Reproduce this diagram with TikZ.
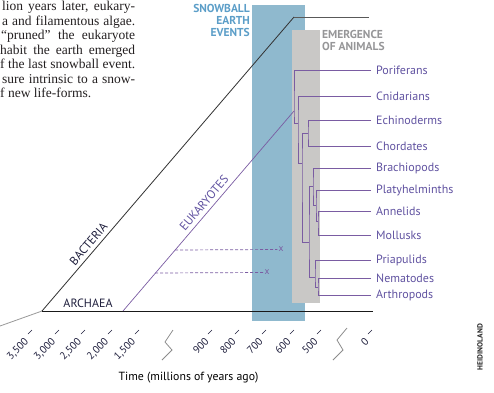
\documentclass[tikz,border=0pt]{standalone}
\usepackage{fontspec}
\setmainfont{Liberation Serif}
\newfontfamily\figsans{PT Sans}
\usetikzlibrary{calc}
\definecolor{snowfill}{RGB}{143,185,206}
\definecolor{snowtext}{RGB}{92,158,200}
\definecolor{animfill}{RGB}{201,200,198}
\definecolor{animtext}{RGB}{150,150,152}
\definecolor{purp}{RGB}{122,92,162}
\definecolor{purptext}{RGB}{96,82,160}
\definecolor{ink}{RGB}{30,30,60}
\definecolor{bodytext}{RGB}{35,31,32}
\tikzset{
  body/.style={anchor=base west, inner sep=0pt, text=bodytext, font=\fontsize{13.5}{14}\selectfont},
  leaf/.style={anchor=west, inner xsep=5pt, inner ysep=0pt, text=purptext, font=\figsans\fontsize{12}{13}\selectfont},
  tree/.style={draw=purp, line width=0.9pt},
  blackline/.style={draw=black!80, line width=0.8pt},
  ticklbl/.style={anchor=east, rotate=45, inner sep=0pt, text=ink, font=\figsans\fontsize{10.5}{12}\selectfont},
  headlbl/.style={inner sep=0pt, font=\figsans\bfseries\fontsize{11.5}{12}\selectfont},
  brk/.style={draw=black!45, line width=0.8pt},
  slant/.style={inner sep=0pt, font=\figsans\fontsize{12}{13}\selectfont}
}
\begin{document}
\begin{tikzpicture}[x=1pt,y=-1pt]
\useasboundingbox (0,0) rectangle (494,392);

% body text (cropped column)
\node[body] (t1) at (2,10.5) {\makebox[133pt][s]{lion years later, eukary-}};
\node[body] (t2) at (2,25) {\makebox[133pt][s]{a and filamentous algae.}};
\node[body] (t3) at (1,39.5) {\makebox[134pt][s]{“pruned” the eukaryote}};
\node[body] (t4) at (0,54) {\makebox[135pt][s]{habit the earth emerged}};
\node[body] (t5) at (0,68.5) {\makebox[135pt][s]{f the last snowball event.}};
\node[body] (t6) at (2,83) {\makebox[133pt][s]{sure intrinsic to a snow-}};
\node[body] (t7) at (0,97.5) {f new life-forms.};

% bands
\fill[snowfill] (252,5) rectangle (305,321);
\fill[animfill] (292,30) rectangle (320,303);

\node[headlbl, text=snowtext, anchor=north east, align=right] (snowlbl) at (250,4.5) {SNOWBALL\\EARTH\\EVENTS};
\node[headlbl, text=animtext, anchor=north west, align=left] (animlbl) at (322,30) {EMERGENCE\\OF ANIMALS};

% bacteria / archaea
\coordinate (stub) at (0,326);
\coordinate (J) at (42,311);
\coordinate (B) at (294,17);
\coordinate (Bend) at (369,17);
\coordinate (Aend) at (373,311);
\draw[draw=black!40, line width=0.8pt] (stub) -- (J);
\draw[blackline] (J) -- (B);
\draw[draw=black!65, line width=0.8pt] (B) -- (Bend);
\draw[draw=black!90, line width=0.8pt] (J) -- (Aend);
\node[slant, text=ink] (arch) at (88,303) {ARCHAEA};
\node[slant, rotate=49.4, text=ink] (bact) at (88.5,244) {BACTERIA};

% eukaryotes
\coordinate (E0) at (123,311);
\coordinate (root) at (294,111);
\draw[tree, line width=0.7pt] (E0) -- (root);
\node[slant, rotate=49.5, text=purptext] (euk) at (204,203) {EUKARYOTES};

% extinct branches
\coordinate (d1) at (175,250);
\coordinate (d2) at (155,273);
\node[inner sep=1pt, text=purp, font=\figsans\fontsize{9.5}{10}\selectfont] (x1) at (281,249.5) {x};
\node[inner sep=1pt, text=purp, font=\figsans\fontsize{9.5}{10}\selectfont] (x2) at (267,272.5) {x};
\draw[draw=purp, line width=0.7pt, dash pattern=on 3pt off 2pt] (d1) -- (x1.west);
\draw[draw=purp, line width=0.7pt, dash pattern=on 3pt off 2pt] (d2) -- (x2.west);

% leaves
\node[leaf] (L1) at (371,70) {Poriferans};
\node[leaf] (L2) at (371,96) {Cnidarians};
\node[leaf] (L3) at (371,120) {Echinoderms};
\node[leaf] (L4) at (371,146) {Chordates};
\node[leaf] (L5) at (371,168) {Brachiopods};
\node[leaf] (L6) at (371,190) {Platyhelminths};
\node[leaf] (L7) at (371,211) {Annelids};
\node[leaf] (L8) at (371,235) {Mollusks};
\node[leaf] (L9) at (371,260) {Priapulids};
\node[leaf] (L10) at (371,278) {Nematodes};
\node[leaf] (L11) at (371,295) {Arthropods};

% internal nodes
\coordinate (eum) at (298,123);
\coordinate (bil) at (302,163);
\coordinate (deu) at (308,133);
\coordinate (pro) at (309,242);
\coordinate (lop) at (313,186);
\coordinate (pla) at (316,205);
\coordinate (tro) at (318,221);
\coordinate (ecd) at (315,277);
\coordinate (nem) at (318,287);

\draw[tree] (L1.west) -| (root) |- (eum);
\draw[tree] (L2.west) -| (eum) |- (bil);
\draw[tree] (deu) -| (bil) |- (pro);
\draw[tree] (L3.west) -| (deu) |- (L4.west);
\draw[tree] (lop) -| (pro) |- (ecd);
\draw[tree] (L5.west) -| (lop) |- (pla);
\draw[tree] (L6.west) -| (pla) |- (tro);
\draw[tree] (L7.west) -| (tro) |- (L8.west);
\draw[tree] (L9.west) -| (ecd) |- (nem);
\draw[tree] (L10.west) -| (nem) |- (L11.west);

% axis
\foreach \x/\l in {30/3{,}500, 57/3{,}000, 83/2{,}500, 110/2{,}000, 137/1{,}500, 210/900, 237/800, 264/700, 292/600, 319/500, 370/0}{
  \draw[draw=ink, line width=0.5pt] (\x-2,334) -- (\x+2,330);
  \node[ticklbl] at (\x-3,340) {\l};
}
\coordinate (b1a) at (173,330); \coordinate (b1b) at (165,342);
\coordinate (b1c) at (172,350); \coordinate (b1d) at (162,360);
\draw[brk] (b1a) -- (b1b) -- (b1c) -- (b1d);
\coordinate (b2a) at (347,328); \coordinate (b2b) at (337,340);
\coordinate (b2c) at (343,350); \coordinate (b2d) at (333,360);
\draw[brk] (b2a) -- (b2b) -- (b2c) -- (b2d);

\node[inner sep=0pt, text=black, font=\figsans\fontsize{11.8}{13}\selectfont] (time) at (188.5,378) {Time (millions of years ago)};
\node[inner sep=0pt, rotate=90, text=black!85, font=\figsans\bfseries\fontsize{7.5}{8}\selectfont] (credit) at (480,347) {HEIDINOLAND};
\end{tikzpicture}
\end{document}
